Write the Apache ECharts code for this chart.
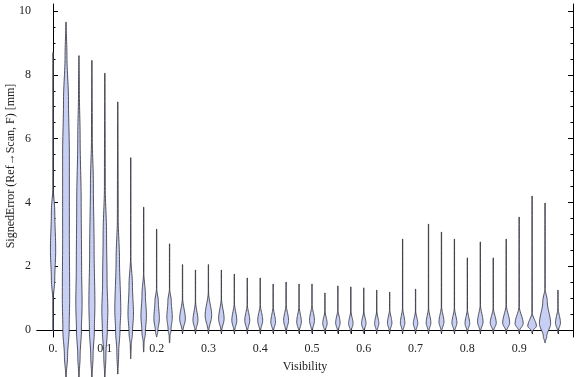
<!DOCTYPE html>
<html><head><meta charset="utf-8">
<script src="https://cdn.jsdelivr.net/npm/echarts@6/dist/echarts.min.js"></script>
<style>html,body{margin:0;padding:0;background:#fff}#c{width:576px;height:377px}</style>
</head><body><div id="c"></div>
<script>
// Violin positions (Visibility bins)
const visibility = [0,0.025,0.05,0.075,0.1,0.125,0.15,0.175,0.2,0.225,0.25,0.275,0.3,0.325,0.35,0.375,0.4,0.425,0.45,0.475,0.5,0.525,0.55,0.575,0.6,0.625,0.65,0.675,0.7,0.725,0.75,0.775,0.8,0.825,0.85,0.875,0.9,0.925,0.95,0.975];
// Extremes of each distribution (mm)
const maxErr = [8.7,9.65,8.6,8.45,8.05,7.15,5.4,3.85,3.16,2.7,2.05,1.88,2.05,1.88,1.75,1.63,1.63,1.44,1.5,1.44,1.44,1.16,1.38,1.35,1.32,1.25,1.19,2.85,1.28,3.32,3.07,2.85,2.26,2.76,2.26,2.85,3.54,4.2,3.98,1.25];
const minErr = [-0.03,-1.5,-1.5,-1.5,-1.5,-1.38,-0.9,-0.69,-0.22,-0.4,-0.1,-0.1,-0.1,-0.1,-0.1,-0.1,-0.1,-0.1,-0.1,-0.1,-0.1,-0.1,-0.1,-0.1,-0.1,-0.1,-0.1,-0.1,-0.1,-0.1,-0.1,-0.1,-0.1,-0.1,-0.1,-0.1,-0.1,-0.1,-0.4,-0.1];
// Density profile of each violin: [error value, half-width in Visibility units], top to bottom
const shapes = [
 [[4.5,0],[3.7,0.003],[2.5,0.0048],[1.6,0.003],[0.9,0]],
 [[8.6,0.0015],[7.2,0.0045],[5.5,0.0062],[3,0.0062],[1,0.0068],[0,0.0058],[-0.8,0.0028]],
 [[7.5,0.0005],[6,0.002],[4,0.004],[2,0.0048],[0.8,0.0058],[0,0.0045],[-0.8,0.002]],
 [[6,0.0005],[4.6,0.0025],[2.5,0.004],[0.8,0.0055],[0,0.0045],[-0.8,0.002]],
 [[4.5,0.0005],[3,0.003],[1.5,0.004],[0.6,0.0055],[0,0.0045],[-0.8,0.0018]],
 [[3.5,0.0005],[2.2,0.003],[0.6,0.0055],[0,0.004],[-0.7,0.0015]],
 [[2.3,0],[1.4,0.003],[0.5,0.005],[-0.1,0.003],[-0.5,0.0005]],
 [[1.8,0],[1.1,0.003],[0.45,0.005],[-0.1,0.003],[-0.4,0.0005]],
 [[1.3,0],[0.9,0.003],[0.35,0.005],[-0.05,0.002]],
 [[1.3,0],[0.9,0.003],[0.4,0.005],[0,0.0025],[-0.2,0.0005]],
 [[1.0,0],[0.35,0.0052],[-0.03,0.0005]],
 [[0.9,0],[0.3,0.0045],[-0.03,0.0005]],
 [[1.2,0],[0.45,0.006],[-0.03,0.0005]],
 [[1.0,0],[0.35,0.005],[-0.03,0.0005]],
 [[0.85,0],[0.3,0.0045],[-0.03,0.0005]],
 [[0.8,0],[0.3,0.0045],[-0.03,0.0005]],
 [[0.8,0],[0.3,0.0045],[-0.03,0.0005]],
 [[0.75,0],[0.25,0.0042],[-0.03,0.0005]],
 [[0.8,0],[0.3,0.0045],[-0.03,0.0005]],
 [[0.75,0],[0.25,0.0042],[-0.03,0.0005]],
 [[0.8,0],[0.3,0.0045],[-0.03,0.0005]],
 [[0.6,0],[0.2,0.004],[-0.03,0.0005]],
 [[0.65,0],[0.22,0.004],[-0.03,0.0005]],
 [[0.6,0],[0.2,0.004],[-0.03,0.0005]],
 [[0.6,0],[0.2,0.004],[-0.03,0.0005]],
 [[0.6,0],[0.2,0.0038],[-0.03,0.0005]],
 [[0.65,0],[0.22,0.004],[-0.03,0.0005]],
 [[0.7,0],[0.22,0.004],[-0.03,0.0005]],
 [[0.6,0],[0.2,0.004],[-0.03,0.0005]],
 [[0.7,0],[0.22,0.0042],[-0.03,0.0005]],
 [[0.75,0],[0.25,0.0045],[-0.03,0.0005]],
 [[0.7,0],[0.22,0.0045],[-0.03,0.0005]],
 [[0.65,0],[0.2,0.0042],[-0.03,0.0005]],
 [[0.8,0],[0.25,0.005],[-0.03,0.0005]],
 [[0.7,0],[0.22,0.0055],[-0.03,0.0005]],
 [[0.8,0],[0.22,0.0065],[-0.03,0.0005]],
 [[0.75,0],[0.2,0.0075],[-0.03,0.0005]],
 [[0.55,0],[0.12,0.008],[-0.03,0.001]],
 [[1.3,0],[0.9,0.004],[0.2,0.0105],[-0.2,0.003]],
 [[0.7,0],[0.22,0.0045],[-0.03,0.0005]]
];
// Axis ticks
const xLabelTicks = [0,0.1,0.2,0.3,0.4,0.5,0.6,0.7,0.8,0.9];
const yMajorTicks = [0,2,4,6,8,10];
const yMinorTicks = [0.5,1,1.5,2.5,3,3.5,4.5,5,5.5,6.5,7,7.5,8.5,9,9.5];
const yTitle = 'SignedError (Ref\u2192Scan, F) [mm]';

const MINW = 0.0003;
function renderItem(params, api) {
  const i = params.dataIndex;
  const x = api.value(0);
  const prof = [[api.value(1), 0]].concat(shapes[i]).concat([[api.value(2), 0]]);
  const right = [], left = [];
  const n = 12;
  for (let k = 0; k < prof.length - 1; k++) {
    const v0 = prof[k][0], w0 = prof[k][1], v1 = prof[k+1][0], w1 = prof[k+1][1];
    for (let s = 0; s < n; s++) {
      const t = s / n, e = t * t * (3 - 2 * t);
      const v = v0 + (v1 - v0) * t, w = w0 + (w1 - w0) * e + MINW;
      right.push(api.coord([x + w, v]));
      left.push(api.coord([x - w, v]));
    }
  }
  const last = prof[prof.length - 1];
  right.push(api.coord([x + MINW, last[0]]));
  left.push(api.coord([x - MINW, last[0]]));
  const points = right.concat(left.reverse());
  return {type: 'polygon', shape: {points: points},
    style: {fill: '#c7cff5', stroke: 'rgba(55,55,65,0.85)', lineWidth: 1}};
}

const font = 'Liberation Serif';
const XMIN = -0.031, XMAX = 1.004, YMIN = -0.22, YMAX = 10.22;
const lineStyle = {color: '#000', width: 1};
const chart = echarts.init(document.getElementById('c'), null, {renderer: 'canvas'});
chart.setOption({
  animation: false,
  grid: {left: 37, right: 3, top: 4, bottom: 40, containLabel: false, outerBoundsMode: 'none'},
  graphic: [{
    type: 'text', x: 11, y: 166, rotation: Math.PI / 2,
    style: {text: yTitle, fontFamily: font, fontSize: 12, fill: '#222', align: 'center', verticalAlign: 'middle'}
  }],
  xAxis: [
    {type: 'value', position: 'bottom', min: XMIN, max: XMAX,
     name: 'Visibility', nameLocation: 'middle', nameGap: 24, nameMoveOverlap: false,
     nameTextStyle: {fontFamily: font, fontSize: 12, color: '#222'},
     axisLine: {show: true, lineStyle: lineStyle},
     axisTick: {show: true, inside: true, length: 4, customValues: visibility, lineStyle: lineStyle},
     axisLabel: {show: true, customValues: xLabelTicks, margin: 6, fontFamily: font, fontSize: 12, color: '#222',
       formatter: v => (Math.abs(v) < 1e-9 ? '0.' : v.toFixed(1))},
     splitLine: {show: false}},
    {type: 'value', position: 'top', min: XMIN, max: XMAX,
     axisLine: {show: true, lineStyle: lineStyle},
     axisTick: {show: true, inside: true, length: 4, customValues: visibility, lineStyle: lineStyle},
     axisLabel: {show: false}, splitLine: {show: false}}
  ],
  yAxis: [
    {type: 'value', position: 'left', min: YMIN, max: YMAX,
     axisLine: {show: true, lineStyle: lineStyle},
     axisTick: {show: true, inside: true, length: 5, customValues: yMajorTicks, lineStyle: lineStyle},
     axisLabel: {show: true, customValues: yMajorTicks, margin: 6, fontFamily: font, fontSize: 12, color: '#222'},
     splitLine: {show: false}},
    {type: 'value', position: 'left', min: YMIN, max: YMAX,
     axisLine: {show: false},
     axisTick: {show: true, inside: true, length: 2.5, customValues: yMinorTicks, lineStyle: lineStyle},
     axisLabel: {show: false}, splitLine: {show: false}},
    {type: 'value', position: 'right', min: YMIN, max: YMAX,
     axisLine: {show: true, lineStyle: lineStyle},
     axisTick: {show: true, inside: true, length: 5, customValues: yMajorTicks, lineStyle: lineStyle},
     axisLabel: {show: false}, splitLine: {show: false}},
    {type: 'value', position: 'right', min: YMIN, max: YMAX,
     axisLine: {show: false},
     axisTick: {show: true, inside: true, length: 2.5, customValues: yMinorTicks, lineStyle: lineStyle},
     axisLabel: {show: false}, splitLine: {show: false}}
  ],
  series: [{
    type: 'custom', xAxisIndex: 0, yAxisIndex: 0, clip: false,
    renderItem: renderItem,
    encode: {x: 0, y: [1, 2]},
    data: visibility.map((v, i) => [v, maxErr[i], minErr[i]])
  }]
});
</script></body></html>
